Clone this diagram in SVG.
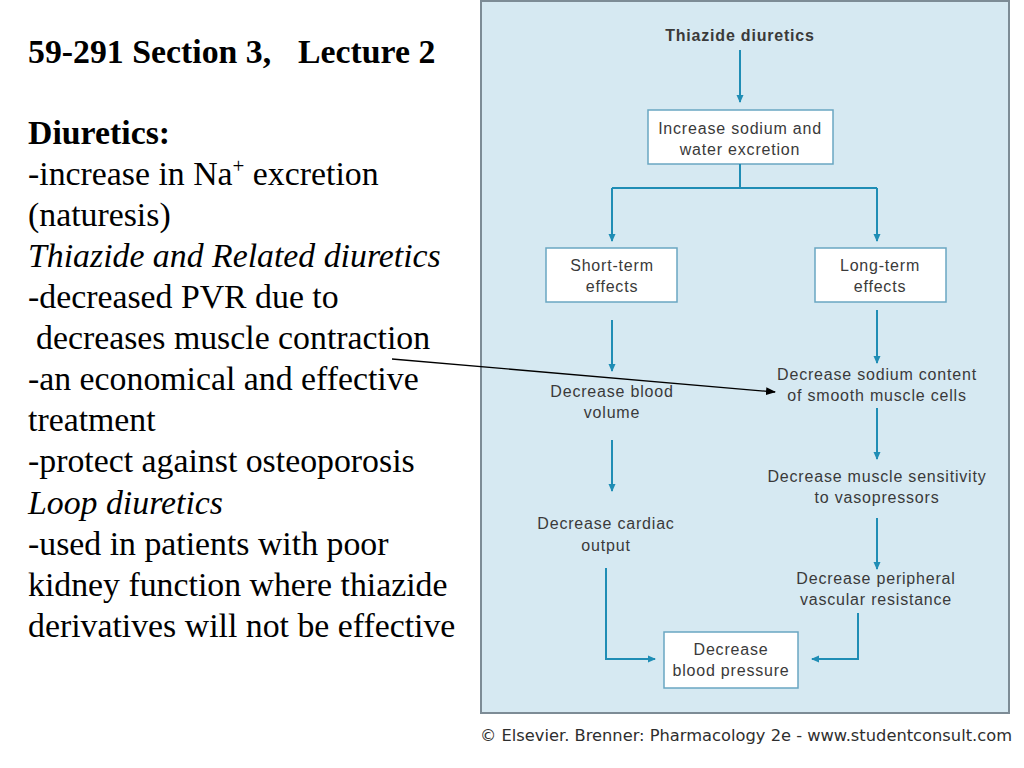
<svg xmlns="http://www.w3.org/2000/svg" width="1024" height="768" viewBox="0 0 1024 768">
<style>
.lt{font-family:"Liberation Serif","Times New Roman",serif;font-size:33.8px;fill:#000}
.b{font-weight:bold}
.i{font-style:italic}
.ft{font-family:"Liberation Sans",Arial,sans-serif;font-size:16px;letter-spacing:0.8px;fill:#3a3a3a;text-anchor:middle}
.box{fill:#fff;stroke:#6aa6c2;stroke-width:1.5}
.tl{fill:none;stroke:#1f8db5;stroke-width:2}
</style>
<defs>
<marker id="ta" markerWidth="8" markerHeight="10" refX="7" refY="5" orient="auto" markerUnits="userSpaceOnUse">
<path d="M0,1.5 L8,5 L0,8.5 Z" fill="#1f8db5"/>
</marker>
<marker id="ba" markerWidth="10" markerHeight="8" refX="9" refY="4" orient="auto" markerUnits="userSpaceOnUse">
<path d="M0,0 L10,4 L0,8 Z" fill="#000"/>
</marker>
</defs>
<rect width="1024" height="768" fill="#fff"/>
<g id="left-text">
<text class="lt b" x="28" y="63">59-291 Section 3,<tspan x="298">Lecture 2</tspan></text>
<text class="lt b" x="28" y="144">Diuretics:</text>
<text class="lt" x="28" y="185">-increase in Na<tspan font-size="21" dy="-12">+</tspan><tspan dy="12"> excretion</tspan></text>
<text class="lt" x="28" y="226">(naturesis)</text>
<text class="lt i" x="28" y="267">Thiazide and Related diuretics</text>
<text class="lt" x="28" y="308">-decreased PVR due to</text>
<text class="lt" x="36" y="349">decreases muscle contraction</text>
<text class="lt" x="28" y="390">-an economical and effective</text>
<text class="lt" x="28" y="431">treatment</text>
<text class="lt" x="28" y="472">-protect against osteoporosis</text>
<text class="lt i" x="28" y="514">Loop diuretics</text>
<text class="lt" x="28" y="555">-used in patients with poor</text>
<text class="lt" x="28" y="596">kidney function where thiazide</text>
<text class="lt" x="28" y="637">derivatives will not be effective</text>
</g>
<rect id="panel" x="481" y="1" width="528" height="712" fill="#d6e9f2" stroke="#7d8c96" stroke-width="2"/>
<g id="title"><text class="ft" x="740" y="41" font-weight="bold" fill="#2a2a2a">Thiazide diuretics</text></g>
<g id="n-increase"><rect class="box" x="648" y="110" width="185" height="54"/>
<text class="ft" x="740" y="134">Increase sodium and</text><text class="ft" x="740" y="155">water excretion</text></g>
<g id="n-short"><rect class="box" x="546" y="248" width="131" height="54"/>
<text class="ft" x="612" y="271">Short-term</text><text class="ft" x="612" y="292">effects</text></g>
<g id="n-long"><rect class="box" x="815" y="248" width="131" height="54"/>
<text class="ft" x="880" y="271">Long-term</text><text class="ft" x="880" y="292">effects</text></g>
<g id="n-volume"><text class="ft" x="612" y="397">Decrease blood</text><text class="ft" x="612" y="418">volume</text></g>
<g id="n-sodium"><text class="ft" x="877" y="380">Decrease sodium content</text><text class="ft" x="877" y="401">of smooth muscle cells</text></g>
<g id="n-sensitivity"><text class="ft" x="877" y="482">Decrease muscle sensitivity</text><text class="ft" x="877" y="503">to vasopressors</text></g>
<g id="n-cardiac"><text class="ft" x="606" y="529">Decrease cardiac</text><text class="ft" x="606" y="551">output</text></g>
<g id="n-pvr"><text class="ft" x="876" y="584">Decrease peripheral</text><text class="ft" x="876" y="605">vascular resistance</text></g>
<g id="n-bp"><rect class="box" x="664" y="632" width="134" height="56"/>
<text class="ft" x="731" y="655">Decrease</text><text class="ft" x="731" y="676">blood pressure</text></g>
<g id="connectors">
<path class="tl" d="M740,50 V102" marker-end="url(#ta)"/>
<path class="tl" d="M740,164 V188"/>
<path class="tl" d="M612,188 H877"/>
<path class="tl" d="M612,188 V241" marker-end="url(#ta)"/>
<path class="tl" d="M877,188 V241" marker-end="url(#ta)"/>
<path class="tl" d="M612,320 V371" marker-end="url(#ta)"/>
<path class="tl" d="M877,310 V363" marker-end="url(#ta)"/>
<path class="tl" d="M612,440 V491" marker-end="url(#ta)"/>
<path class="tl" d="M877,408 V459" marker-end="url(#ta)"/>
<path class="tl" d="M877,518 V569" marker-end="url(#ta)"/>
<path class="tl" d="M606,568 V659 H655" marker-end="url(#ta)"/>
<path class="tl" d="M858,613 V659 H812" marker-end="url(#ta)"/>
<path d="M392,359 L775,392" stroke="#000" stroke-width="1.3" fill="none" marker-end="url(#ba)"/>
</g>
<text id="credit" x="480" y="741" font-family="'DejaVu Sans',Verdana,sans-serif" font-size="15" fill="#2e2e2e" textLength="532" lengthAdjust="spacingAndGlyphs">© Elsevier. Brenner: Pharmacology 2e - www.studentconsult.com</text>
</svg>
